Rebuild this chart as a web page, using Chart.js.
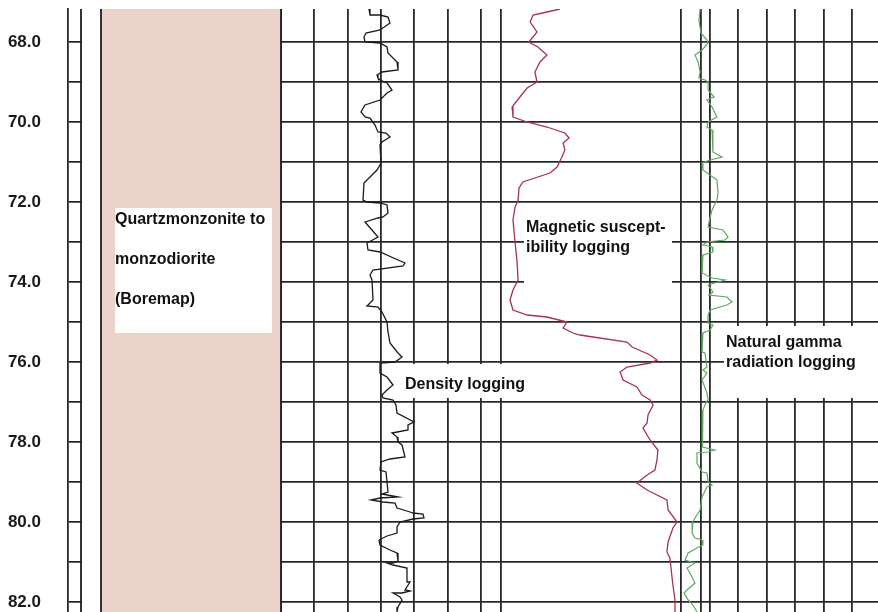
<!DOCTYPE html>
<html>
<head>
<meta charset="utf-8">
<script src="https://cdn.jsdelivr.net/npm/chart.js@4.4.1/dist/chart.umd.min.js"></script>
<style>
  html, body { margin: 0; padding: 0; background: #fff; }
  #c { display: block; }
</style>
</head>
<body>
<canvas id="c" width="878" height="612"></canvas>
<script>
// ---------------- DATA ----------------
// Depth axis (m)
const depthMin = 67.175;
const depthMax = 82.25;
const depthTickStep = 1;

// Density logging (g/cm3)
const densityDepth = [67.175,67.325,67.325,67.375,67.525,67.70,67.775,67.875,68.0,68.025,68.125,68.275,68.50,68.70,68.75,68.825,68.90,68.95,69.025,69.20,69.275,69.45,69.575,69.75,69.875,69.90,70.075,70.25,70.275,70.375,70.50,70.575,71.025,71.20,71.375,71.525,71.95,72.0,72.025,72.075,72.275,72.375,72.40,72.50,72.70,72.875,73.025,73.20,73.25,73.45,73.525,73.60,73.70,73.825,73.95,74.45,74.60,74.625,74.75,75.0,75.25,75.525,75.775,75.875,76.0,76.025,76.275,76.375,76.575,76.70,76.825,76.90,76.95,77.075,77.275,77.50,77.575,77.70,77.775,77.875,78.0,78.075,78.375,78.425,78.50,78.70,78.75,79.0,79.25,79.30,79.375,79.40,79.45,79.50,79.525,79.65,79.75,79.775,79.80,79.90,79.925,80.0,80.125,80.275,80.35,80.45,80.575,80.70,80.775,80.975,81.025,81.025,81.075,81.15,81.50,81.50,81.70,81.725,81.775,81.775,81.875,81.95,82.125,82.25];
const densityValue = [2.664,2.667,2.697,2.721,2.727,2.697,2.655,2.649,2.652,2.697,2.718,2.721,2.748,2.751,2.703,2.688,2.691,2.697,2.718,2.733,2.718,2.697,2.652,2.640,2.652,2.667,2.682,2.691,2.715,2.727,2.703,2.697,2.700,2.688,2.667,2.649,2.646,2.658,2.697,2.718,2.721,2.706,2.691,2.652,2.673,2.691,2.658,2.661,2.697,2.751,2.772,2.766,2.676,2.667,2.673,2.676,2.658,2.691,2.703,2.718,2.721,2.727,2.751,2.763,2.742,2.697,2.697,2.718,2.736,2.718,2.703,2.706,2.736,2.745,2.748,2.799,2.781,2.781,2.733,2.748,2.751,2.763,2.772,2.727,2.700,2.697,2.715,2.718,2.721,2.703,2.751,2.697,2.670,2.706,2.742,2.748,2.787,2.796,2.826,2.829,2.796,2.757,2.748,2.748,2.718,2.694,2.697,2.727,2.748,2.751,2.736,2.718,2.736,2.778,2.778,2.787,2.772,2.787,2.763,2.736,2.757,2.763,2.751,2.748];

// Magnetic susceptibility logging (x10^-3 SI)
const magDepth = [67.175,67.25,67.325,67.50,67.75,68.0,68.125,68.325,68.50,68.75,69.0,69.15,69.375,69.625,69.875,70.0,70.125,70.275,70.40,70.525,70.70,70.875,71.125,71.275,71.50,71.65,71.95,72.125,72.45,73.025,73.45,73.95,74.20,74.45,74.70,74.825,74.875,75.0,75.15,75.275,75.325,75.375,75.50,75.625,75.825,75.95,76.025,76.125,76.25,76.45,76.625,76.825,76.95,77.075,77.325,77.525,77.65,77.95,78.20,78.45,78.70,78.825,79.025,79.20,79.325,79.45,79.70,80.0,80.15,80.50,80.75,80.90,81.375,81.575,81.95,82.25];
const magValue = [19.7,15.3,10.7,9.7,12.0,9.3,12.3,15.3,13.0,11.3,12.0,8.7,6.3,3.7,4.0,8.7,15.3,21.3,22.7,20.7,21.3,20.3,18.7,16.3,7.3,6.0,5.7,4.7,4.0,4.7,5.3,5.7,4.0,3.0,4.0,8.7,15.3,22.0,20.7,24.0,26.3,30.7,42.0,43.7,49.7,52.0,49.7,42.0,39.7,40.7,45.3,47.0,49.7,50.7,49.0,48.7,47.3,49.7,52.3,52.0,51.3,48.7,45.3,48.7,52.0,55.3,55.7,58.7,57.3,55.7,55.3,56.3,57.0,57.3,58.0,58.0];

// Natural gamma radiation logging (uR/h)
const gammaDepth = [67.175,67.45,67.775,67.95,68.025,68.20,68.325,68.50,68.75,68.90,68.95,69.0,69.20,69.375,69.45,69.625,69.875,70.0,70.125,70.20,70.75,70.875,70.95,71.025,71.20,71.45,71.775,71.95,72.20,72.375,72.625,72.70,72.875,72.95,73.0,73.075,73.125,73.25,73.325,73.775,73.90,73.95,74.075,74.25,74.325,74.375,74.50,74.575,74.70,74.825,75.025,75.075,75.20,75.275,75.40,75.75,75.775,76.125,76.20,76.275,76.45,76.775,76.95,77.0,77.20,77.825,78.125,78.20,78.25,78.275,78.525,78.75,78.775,79.0,79.075,79.125,79.375,79.70,79.90,80.0,80.275,80.40,80.45,80.575,80.65,80.775,80.95,81.025,81.15,81.375,81.525,81.70,81.775,81.95,82.075,82.25];
const gammaValue = [6.7,6.3,7.0,9.1,9.5,7.4,4.9,6.0,6.7,6.3,8.4,9.5,9.5,11.6,9.1,10.9,12.6,9.5,9.1,10.9,11.2,14.4,10.2,7.4,7.7,12.6,13.0,12.6,10.9,10.2,9.5,14.7,16.5,15.4,9.1,7.7,10.9,11.2,7.7,7.4,10.9,15.4,9.5,11.2,9.8,16.1,17.9,16.1,10.2,9.5,9.5,11.2,10.2,7.7,7.4,7.4,8.4,9.1,7.7,9.1,7.4,9.1,9.5,8.8,7.7,7.4,7.7,11.9,9.5,5.6,5.6,7.4,9.1,9.5,10.9,9.1,7.4,6.7,4.9,4.2,3.9,4.9,7.4,7.7,5.6,2.5,1.4,4.9,2.1,3.9,4.9,2.1,1.1,2.5,4.2,5.6];

// Track grid values
const densityGrid = [2.4, 2.5, 2.6, 2.7, 2.8, 2.9, 3.0];
const magGrid = [0];
const gammaGrid = [0, 7, 10, 20, 30, 40, 50, 60];

// Lithology
const lithology = [{ from: 67.0, to: 82.5, text: ['Quartzmonzonite to', 'monzodiorite', '(Boremap)'] }];

// Labels
const curveLabels = {
  density: ['Density logging'],
  magnetic: ['Magnetic suscept-', 'ibility logging'],
  gamma: ['Natural gamma', 'radiation logging']
};

// ---------------- LAYOUT (pixels) ----------------
const L = {
  top: 9, left: 68, right: 878,
  depthColRight: 81,
  litho: [101, 281],
  density: { px: [281, 481], v: [2.4, 3.0] },
  mag: { px: [501, 681], v: [0, 60] },
  gamma: { px: [681, 852], v: [0, 60] }
};

function axisRange(t) {
  const k = (t.v[1] - t.v[0]) / (t.px[1] - t.px[0]);
  return { min: t.v[0] + (L.left - t.px[0]) * k, max: t.v[0] + (L.right - t.px[0]) * k };
}

const GRID_COLOR = '#282828';
const GRID_W = 1.8;
const FONT = 'bold 16px "Liberation Sans", Arial, sans-serif';

function xAxis(track, gridVals) {
  const r = axisRange(track);
  return {
    type: 'linear', position: 'bottom', min: r.min, max: r.max,
    ticks: { display: false },
    border: { display: false },
    grid: { color: GRID_COLOR, lineWidth: GRID_W, drawTicks: false },
    afterBuildTicks(s) { s.ticks = gridVals.map(v => ({ value: v })); },
    afterFit(s) { s.height = 0; s.paddingLeft = 0; s.paddingRight = 0; s.paddingTop = 0; s.paddingBottom = 0; }
  };
}

const overlay = {
  id: 'overlay',
  beforeDraw(chart) {
    const ctx = chart.ctx;
    ctx.save();
    ctx.fillStyle = '#fff';
    ctx.fillRect(0, 0, chart.width, chart.height);
    ctx.restore();
  },
  beforeDatasetsDraw(chart) {
    const { ctx, chartArea: a, scales } = chart;
    const y = scales.y;
    ctx.save();
    // white gap between depth column and lithology track
    ctx.fillStyle = '#fff';
    ctx.fillRect(L.depthColRight + 1, a.top, L.litho[0] - L.depthColRight - 1, a.bottom - a.top);
    // lithology
    lithology.forEach(it => {
      const t = Math.max(a.top, y.getPixelForValue(it.from));
      const b = Math.min(a.bottom, y.getPixelForValue(it.to));
      ctx.fillStyle = '#ebd2ca';
      ctx.fillRect(L.litho[0], t, L.litho[1] - L.litho[0], b - t);
    });
    // vertical borders
    ctx.strokeStyle = '#1e1e1e';
    ctx.lineWidth = GRID_W;
    [L.depthColRight, L.litho[0], L.litho[1]].forEach(x => {
      ctx.beginPath(); ctx.moveTo(x, a.top); ctx.lineTo(x, a.bottom); ctx.stroke();
    });
    // label boxes
    const boxes = [
      { r: [115, 208, 157, 125], lines: lithology[0].text, x: 115, y0: 224, dy: 40 },
      { r: [524, 208, 148, 84], lines: curveLabels.magnetic, x: 526, y0: 232, dy: 20 },
      { r: [398, 364, 134, 34], lines: curveLabels.density, x: 405, y0: 389, dy: 20 },
      { r: [724, 326, 154, 72], lines: curveLabels.gamma, x: 726, y0: 347, dy: 20 }
    ];
    boxes.forEach(bx => {
      ctx.fillStyle = '#fff';
      ctx.fillRect(bx.r[0], bx.r[1], bx.r[2], bx.r[3]);
      ctx.fillStyle = '#111';
      ctx.font = FONT;
      ctx.textAlign = 'left';
      ctx.textBaseline = 'alphabetic';
      bx.lines.forEach((s, i) => ctx.fillText(s, bx.x, bx.y0 + i * bx.dy));
    });
    ctx.restore();
  }
};

const toPts = (d, v) => d.map((dd, i) => ({ x: v[i], y: dd }));

new Chart(document.getElementById('c'), {
  type: 'scatter',
  data: {
    datasets: [
      { label: 'Density logging', xAxisID: 'xDen', data: toPts(densityDepth, densityValue),
        showLine: true, borderColor: '#1a1a1a', borderWidth: 1.3, pointRadius: 0, tension: 0 },
      { label: 'Magnetic susceptibility logging', xAxisID: 'xMag', data: toPts(magDepth, magValue),
        showLine: true, borderColor: '#a8324f', borderWidth: 1.3, pointRadius: 0, tension: 0 },
      { label: 'Natural gamma radiation logging', xAxisID: 'xGam', data: toPts(gammaDepth, gammaValue),
        showLine: true, borderColor: '#5fa85f', borderWidth: 1.2, pointRadius: 0, tension: 0 }
    ]
  },
  options: {
    responsive: false,
    animation: false,
    layout: { autoPadding: false, padding: { top: L.top, right: 0, bottom: 0, left: 0 } },
    plugins: { legend: { display: false }, tooltip: { enabled: false } },
    scales: {
      y: {
        type: 'linear', reverse: true, min: depthMin, max: depthMax, position: 'left',
        ticks: {
          stepSize: depthTickStep, includeBounds: false, padding: 27, color: '#1a1a1a',
          font: { family: '"Liberation Sans", Arial, sans-serif', weight: 'bold', size: 17 },
          callback: v => (Math.round(v) % 2 === 0 ? Number(v).toFixed(1) : '')
        },
        grid: { color: GRID_COLOR, lineWidth: GRID_W, drawTicks: false },
        border: { display: true, color: GRID_COLOR, width: GRID_W },
        afterFit(s) { s.width = L.left; s.paddingTop = 0; s.paddingBottom = 0; }
      },
      xDen: xAxis(L.density, densityGrid),
      xMag: xAxis(L.mag, magGrid),
      xGam: xAxis(L.gamma, gammaGrid)
    }
  },
  plugins: [overlay]
});
</script>
</body>
</html>
